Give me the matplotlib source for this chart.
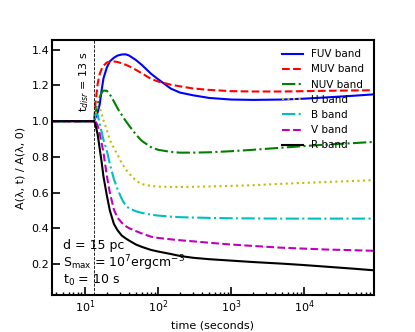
import numpy as np
import matplotlib
matplotlib.use('Agg')
from matplotlib import pyplot as plt

# Tiempos (s) compartidos por todas las bandas
t = np.array([3.55, 13.4, 14, 15, 16, 17, 18, 20, 22, 25, 28, 32, 36, 40, 50, 60, 80,
              100, 150, 200, 300, 500, 1000, 2000, 5000, 1e4, 2e4, 5e4, 8.8e4])

fuv = [1.0, 1.0, 1.02, 1.05, 1.095, 1.175, 1.24, 1.30, 1.335, 1.355, 1.367, 1.373, 1.374,
       1.368, 1.342, 1.315, 1.266, 1.235, 1.182, 1.16, 1.145, 1.13, 1.121, 1.119, 1.121,
       1.126, 1.133, 1.143, 1.15]
muv = [1.0, 1.0, 1.10, 1.21, 1.265, 1.292, 1.31, 1.328, 1.333, 1.334, 1.331, 1.324, 1.316,
       1.308, 1.287, 1.268, 1.237, 1.222, 1.204, 1.195, 1.183, 1.175, 1.168, 1.166, 1.166,
       1.168, 1.17, 1.172, 1.173]
nuv = [1.0, 1.0, 1.05, 1.095, 1.135, 1.16, 1.171, 1.17, 1.15, 1.11, 1.072, 1.035, 1.003,
       0.977, 0.925, 0.89, 0.855, 0.84, 0.828, 0.824, 0.824, 0.826, 0.832, 0.84, 0.852,
       0.861, 0.869, 0.878, 0.884]
u_band = [1.0, 1.0, 1.04, 1.08, 1.075, 1.04, 1.005, 0.95, 0.895, 0.85, 0.812, 0.765, 0.733,
          0.708, 0.668, 0.648, 0.638, 0.634, 0.632, 0.632, 0.633, 0.635, 0.638, 0.642, 0.65,
          0.655, 0.66, 0.666, 0.67]
b_band = [1.0, 1.0, 1.04, 1.035, 0.985, 0.94, 0.895, 0.835, 0.76, 0.675, 0.62, 0.565, 0.53,
          0.513, 0.496, 0.487, 0.477, 0.472, 0.466, 0.463, 0.461, 0.459, 0.457, 0.456, 0.455,
          0.455, 0.455, 0.455, 0.455]
v_band = [1.0, 1.0, 1.0, 0.975, 0.93, 0.875, 0.825, 0.695, 0.6, 0.505, 0.46, 0.432, 0.414,
          0.402, 0.385, 0.372, 0.354, 0.347, 0.339, 0.334, 0.328, 0.32, 0.31, 0.302, 0.292,
          0.287, 0.282, 0.278, 0.275]
r_band = [1.0, 1.0, 0.98, 0.925, 0.845, 0.77, 0.69, 0.585, 0.5, 0.425, 0.39, 0.36, 0.345,
          0.333, 0.31, 0.297, 0.28, 0.271, 0.257, 0.246, 0.236, 0.228, 0.22, 0.212, 0.203,
          0.195, 0.186, 0.174, 0.166]

bandas = ['FUV band', 'MUV band', 'NUV band', 'U band', 'B band', 'V band', 'R band']
series = [fuv, muv, nuv, u_band, b_band, v_band, r_band]
estilos = ['b-', 'r--', 'g-.', 'y:', 'c-.', 'm--', 'k-']

t_disr = 13.4

fig, ax = plt.subplots(figsize=(4.15, 3.32), dpi=100)

for vals, est, lab in zip(series, estilos, bandas):
    ax.plot(t, vals, est, lw=1.5, label=lab)

ax.axvline(t_disr, color='k', ls='--', lw=0.6)
ax.text(9.8, 1.05, r't$_{disr}$ = 13 s', rotation=90, ha='center', va='bottom', fontsize=8)

ax.text(0.034, 0.195, 'd = 15 pc', transform=ax.transAxes, va='center', fontsize=9)
ax.text(0.034, 0.125, r'S$_{\rm max}$ = 10$^7$ergcm$^{-3}$', transform=ax.transAxes,
        va='center', fontsize=9)
ax.text(0.034, 0.059, r't$_0$ = 10 s', transform=ax.transAxes, va='center', fontsize=9)

ax.set_xscale('log')
ax.set_xlim(3.55, 8.8e4)
ax.set_ylim(0.025, 1.455)
ax.set_yticks([0.2, 0.4, 0.6, 0.8, 1.0, 1.2, 1.4])
ax.set_xlabel('time (seconds)', fontsize=8)
ax.set_ylabel('A(λ, t) / A(λ, 0)', fontsize=8)

ax.tick_params(axis='both', which='major', direction='in', length=5.5, width=1.2,
               labelsize=8, pad=2, top=False, right=False)
ax.tick_params(axis='both', which='minor', direction='in', length=2.5, width=1,
               top=False, right=False)
ax.tick_params(axis='y', which='minor', left=False)
for s in ax.spines.values():
    s.set_linewidth(1.5)

ax.legend(loc='upper right', frameon=False, fontsize=7.5)

plt.savefig('out.png', dpi=100)
